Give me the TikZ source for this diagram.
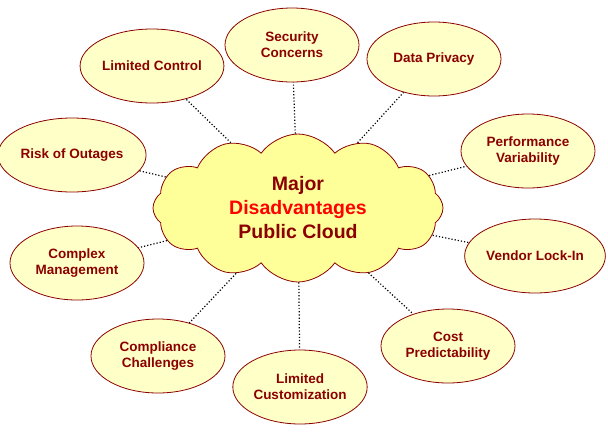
\documentclass[tikz,border=0pt]{standalone}
\usepackage{fontspec}
\setmainfont{Liberation Sans}
\usetikzlibrary{shapes.symbols,shapes.geometric}
\definecolor{darkred}{HTML}{8B0000}
\definecolor{paleyellow}{HTML}{FFFFC8}
\definecolor{cloudyellow}{HTML}{FFFF99}
\begin{document}
\begin{tikzpicture}[x=1pt,y=-1pt,
  issue/.style={ellipse,draw=darkred,fill=paleyellow,thick,minimum width=134pt,
                minimum height=74pt,inner sep=1pt,align=center,
                font=\bfseries\fontsize{13.5}{16}\selectfont,text=darkred},
  link/.style={dotted,very thick}]
  \useasboundingbox (0,0) rectangle (608,432);

  \node[cloud,cloud puffs=12,cloud puff arc=110,aspect=2,draw=darkred,fill=cloudyellow,thick,
        minimum width=290pt,minimum height=148pt,inner sep=0pt,align=center,text=darkred,
        font=\bfseries\fontsize{19.5}{24}\selectfont] (cloud) at (298,208)
        {Major\\\textcolor{red}{Disadvantages}\\Public Cloud};

  \node[issue] (security)   at (292,45)  {Security\\Concerns};
  \node[issue] (control)    at (152,66)  {Limited Control};
  \node[issue] (privacy)    at (434,59)  {Data Privacy};
  \node[issue] (outages)    at (72,155)  {Risk of Outages};
  \node[issue] (perform)    at (528,151) {Performance\\Variability};
  \node[issue] (complex)    at (77,263)  {Complex\\Management};
  \node[issue] (vendor)     at (535,256) {Vendor Lock-In};
  \node[issue] (compliance) at (158,356) {Compliance\\Challenges};
  \node[issue] (custom)     at (300,387) {Limited\\Customization};
  \node[issue] (cost)       at (448,346) {Cost\\Predictability};

  \foreach \n in {security,control,privacy,outages,perform,complex,vendor,compliance,custom,cost}
    \draw[link] (cloud) -- (\n);
\end{tikzpicture}
\end{document}
